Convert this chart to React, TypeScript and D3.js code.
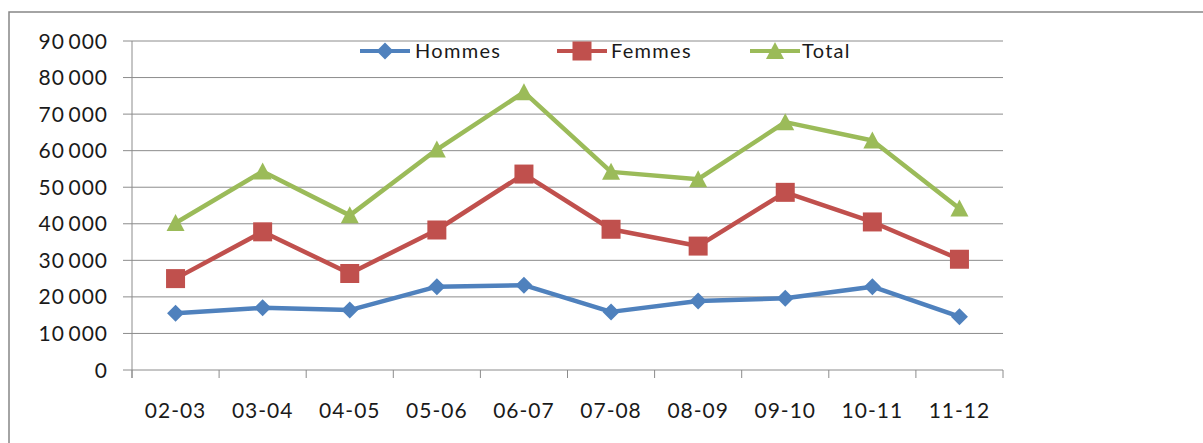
import * as d3 from "d3";

const categories = ["02-03", "03-04", "04-05", "05-06", "06-07", "07-08", "08-09", "09-10", "10-11", "11-12"];
const hommes = [15500, 17000, 16400, 22800, 23200, 15900, 18900, 19600, 22800, 14600];
const femmes = [25000, 37800, 26400, 38300, 53600, 38500, 33900, 48600, 40500, 30300];
const total = [40200, 54300, 42300, 60300, 76000, 54200, 52200, 67800, 62800, 44200];
const yTicks = [0, 10000, 20000, 30000, 40000, 50000, 60000, 70000, 80000, 90000];

const series = [
  { name: "Hommes", values: hommes, color: "#4F81BD", marker: "diamond" },
  { name: "Femmes", values: femmes, color: "#C0504D", marker: "square" },
  { name: "Total", values: total, color: "#9BBB59", marker: "triangle" },
];

const W = 1203;
const H = 443;
const plot = { left: 132, right: 1003, top: 41, bottom: 370 };
const font = "Lato, 'Open Sans', sans-serif";
const grid = "#8c8c8c";
const ink = "#1a1a1a";

const fmt = d3.formatLocale({ decimal: ",", thousands: "\u2009", grouping: [3], currency: ["", " €"] }).format(",d");

function Marker({ type, x, y, color }: { type: string; x: number; y: number; color: string }) {
  if (type === "diamond") {
    const p = d3.path();
    p.moveTo(x, y - 8.5);
    p.lineTo(x + 8.5, y);
    p.lineTo(x, y + 8.5);
    p.lineTo(x - 8.5, y);
    p.closePath();
    return <path d={p.toString()} fill={color} />;
  }
  if (type === "square") {
    return <rect x={x - 9.5} y={y - 9.5} width={19} height={19} fill={color} />;
  }
  const p = d3.path();
  p.moveTo(x, y - 9);
  p.lineTo(x + 9, y + 8);
  p.lineTo(x - 9, y + 8);
  p.closePath();
  return <path d={p.toString()} fill={color} />;
}

export default function App() {
  const x = d3.scaleBand<string>().domain(categories).range([plot.left, plot.right]).padding(0);
  const y = d3.scaleLinear().domain([0, 90000]).range([plot.bottom, plot.top]);
  const cx = (c: string) => (x(c) ?? 0) + x.bandwidth() / 2;

  const line = d3
    .line<number>()
    .x((_, i) => cx(categories[i]))
    .y((d) => y(d));

  const boundaries = categories.map((c) => x(c) ?? 0).concat([plot.right]);

  const legend = [
    { x0: 360, tx: 415 },
    { x0: 557, tx: 611 },
    { x0: 750, tx: 802 },
  ];

  return (
    <svg width={W} height={H} style={{ position: "fixed", left: 0, top: 0, background: "#fff" }}>
      <rect x={9} y={12} width={1300} height={600} fill="#fff" stroke="#868686" strokeWidth={1.5} />

      {/* gridlines + y ticks */}
      {yTicks.map((t) => (
        <g key={t}>
          <line x1={plot.left - 9} x2={t === 0 ? plot.left : plot.right} y1={y(t)} y2={y(t)} stroke={grid} strokeWidth={1} />
          <text x={108} y={y(t)} dy="0.36em" textAnchor="end" fontFamily={font} fontSize={21} letterSpacing={1} fill={ink}>
            {fmt(t)}
          </text>
        </g>
      ))}

      {/* axes */}
      <line x1={plot.left} x2={plot.left} y1={plot.top} y2={plot.bottom + 8} stroke={grid} />
      <line x1={plot.left} x2={plot.right} y1={plot.bottom} y2={plot.bottom} stroke={grid} />
      {boundaries.map((b, i) => (
        <line key={i} x1={b} x2={b} y1={plot.bottom} y2={plot.bottom + 8} stroke={grid} />
      ))}
      {categories.map((c) => (
        <text key={c} x={cx(c)} y={418} textAnchor="middle" fontFamily={font} fontSize={21} letterSpacing={1} fill={ink}>
          {c}
        </text>
      ))}

      {/* series */}
      {series.map((s) => (
        <g key={s.name}>
          <path d={line(s.values) ?? ""} fill="none" stroke={s.color} strokeWidth={4.5} strokeLinejoin="round" />
          {s.values.map((v, i) => (
            <Marker key={i} type={s.marker} x={cx(categories[i])} y={y(v)} color={s.color} />
          ))}
        </g>
      ))}

      {/* legend */}
      {series.map((s, i) => (
        <g key={s.name}>
          <line x1={legend[i].x0} x2={legend[i].x0 + 50} y1={51} y2={51} stroke={s.color} strokeWidth={4} />
          <Marker type={s.marker} x={legend[i].x0 + 25} y={51} color={s.color} />
          <text x={legend[i].tx} y={51} dy="0.36em" fontFamily={font} fontSize={20} letterSpacing={1.3} fill={ink}>
            {s.name}
          </text>
        </g>
      ))}
    </svg>
  );
}
